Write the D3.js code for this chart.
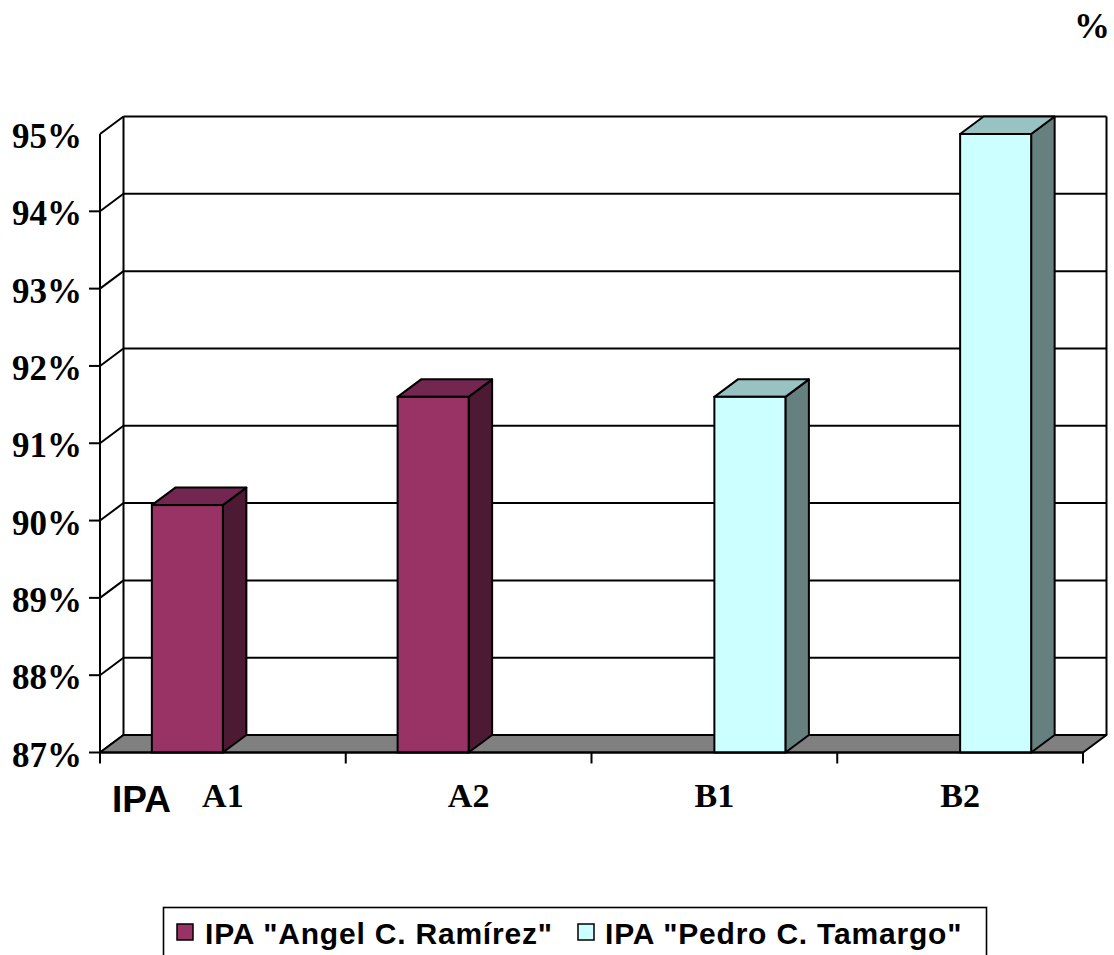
<!DOCTYPE html>
<html>
<head>
<meta charset="utf-8">
<script src="https://cdn.jsdelivr.net/npm/d3@7"></script>
<style>
  html, body { margin: 0; padding: 0; background: #fff; }
  svg { display: block; }
</style>
</head>
<body>
<svg id="chart" width="1114" height="955"></svg>
<script>
const categories = ["A1", "A2", "B1", "B2"];
const seriesNames = ['IPA "Angel C. Ramírez"', 'IPA "Pedro C. Tamargo"'];
const angelValues = [90.2, 91.6, null, null];
const pedroValues = [null, null, 91.6, 95.0];
const yTickValues = [87, 88, 89, 90, 91, 92, 93, 94, 95];
const yTickLabels = ["87%", "88%", "89%", "90%", "91%", "92%", "93%", "94%", "95%"];
const axisTitle = "IPA";
const cornerLabel = "%";

const colors = [
  { front: "#993366", top: "#732650", side: "#4d1a33" },
  { front: "#ccffff", top: "#99c2c2", side: "#668080" }
];

const svg = d3.select("#chart");
const DX = 23.5, DY = -17.5;
const y = d3.scaleLinear().domain([87, 95]).range([752.5, 134]);
const x0 = d3.scaleBand().domain(categories).range([100, 1083]).padding(0);
const bw = x0.bandwidth();
const x1 = d3.scaleBand().domain(seriesNames).range([bw * 0.211, bw * 0.789]).padding(0);
const xL = 100, xR = 1083;
const yBase = y(87), yTop = y(95);
const sw = 2;

// back wall
const back = svg.append("g");
back.append("rect").attr("x", xL + DX).attr("y", yTop + DY)
  .attr("width", xR - xL).attr("height", yBase - yTop).attr("fill", "#fff");
back.selectAll("line.grid").data(yTickValues).join("line")
  .attr("x1", xL + DX).attr("x2", xR + DX)
  .attr("y1", d => y(d) + DY).attr("y2", d => y(d) + DY)
  .attr("stroke", "#000").attr("stroke-width", sw);
back.selectAll("line.diag").data(yTickValues).join("line")
  .attr("x1", xL).attr("x2", xL + DX)
  .attr("y1", d => y(d)).attr("y2", d => y(d) + DY)
  .attr("stroke", "#000").attr("stroke-width", sw);
[[xL + DX, yTop + DY, xL + DX, yBase + DY], [xR + DX, yTop + DY, xR + DX, yBase + DY], [xL, yTop, xL, yBase]]
  .forEach(l => back.append("line").attr("x1", l[0]).attr("y1", l[1]).attr("x2", l[2]).attr("y2", l[3])
    .attr("stroke", "#000").attr("stroke-width", sw));

// floor
svg.append("polygon")
  .attr("points", [[xL, yBase], [xR, yBase], [xR + DX, yBase + DY], [xL + DX, yBase + DY]].map(p => p.join(",")).join(" "))
  .attr("fill", "#808080").attr("stroke", "#000").attr("stroke-width", sw).attr("stroke-linejoin", "round");

// bars
const barData = [];
categories.forEach((c, i) => {
  [angelValues, pedroValues].forEach((vals, s) => {
    if (vals[i] != null) barData.push({ cat: c, s, v: vals[i] });
  });
});
const bars = svg.append("g").selectAll("g").data(barData).join("g");
bars.each(function(d) {
  const g = d3.select(this);
  const xb = x0(d.cat) + x1(seriesNames[d.s]);
  const w = x1.bandwidth();
  const yt = y(d.v);
  const c = colors[d.s];
  g.append("polygon")
    .attr("points", [[xb + w, yt], [xb + w + DX, yt + DY], [xb + w + DX, yBase + DY], [xb + w, yBase]].map(p => p.join(",")).join(" "))
    .attr("fill", c.side).attr("stroke", "#000").attr("stroke-width", sw).attr("stroke-linejoin", "round");
  g.append("polygon")
    .attr("points", [[xb, yt], [xb + w, yt], [xb + w + DX, yt + DY], [xb + DX, yt + DY]].map(p => p.join(",")).join(" "))
    .attr("fill", c.top).attr("stroke", "#000").attr("stroke-width", sw).attr("stroke-linejoin", "round");
  g.append("rect").attr("x", xb).attr("y", yt).attr("width", w).attr("height", yBase - yt)
    .attr("fill", c.front).attr("stroke", "#000").attr("stroke-width", sw);
});

// front axis line and x ticks
svg.append("line").attr("x1", xL).attr("x2", xR).attr("y1", yBase).attr("y2", yBase)
  .attr("stroke", "#000").attr("stroke-width", sw);
const xTickPos = categories.map(c => x0(c)).concat([xR]);
svg.selectAll("line.xt").data(xTickPos).join("line")
  .attr("x1", d => d).attr("x2", d => d).attr("y1", yBase).attr("y2", yBase + 11)
  .attr("stroke", "#000").attr("stroke-width", sw);

// y ticks
svg.selectAll("line.yt").data(yTickValues.slice(0, -1)).join("line")
  .attr("x1", xL - 11).attr("x2", xL).attr("y1", d => y(d)).attr("y2", d => y(d))
  .attr("stroke", "#000").attr("stroke-width", sw);

// y labels
svg.selectAll("text.yl").data(yTickValues).join("text")
  .attr("x", 82).attr("y", d => y(d) + 14)
  .attr("text-anchor", "end")
  .attr("font-family", "'Liberation Serif', 'Times New Roman', serif")
  .attr("font-weight", "bold").attr("font-size", 35)
  .text((d, i) => yTickLabels[i]);

// x labels
svg.selectAll("text.xl").data(categories).join("text")
  .attr("x", d => x0(d) + bw / 2).attr("y", 807)
  .attr("text-anchor", "middle")
  .attr("font-family", "'Liberation Serif', 'Times New Roman', serif")
  .attr("font-weight", "bold").attr("font-size", 34)
  .text(d => d);

// IPA axis title
svg.append("text").attr("x", 112).attr("y", 812)
  .attr("font-family", "'Liberation Sans', Arial, sans-serif")
  .attr("font-weight", "bold").attr("font-size", 37)
  .text(axisTitle);

// corner %
svg.append("text").attr("x", 1110).attr("y", 38)
  .attr("text-anchor", "end")
  .attr("font-family", "'Liberation Serif', 'Times New Roman', serif")
  .attr("font-weight", "bold").attr("font-size", 36)
  .text(cornerLabel);

// legend
const leg = svg.append("g");
leg.append("rect").attr("x", 163.5).attr("y", 907.5).attr("width", 823).attr("height", 60)
  .attr("fill", "#fff").attr("stroke", "#000").attr("stroke-width", 1.6);
const legX = [177, 578];
const legTextX = [205, 605];
seriesNames.forEach((n, i) => {
  leg.append("rect").attr("x", legX[i]).attr("y", 924).attr("width", 16).attr("height", 16)
    .attr("fill", colors[i].front).attr("stroke", "#000").attr("stroke-width", 1.5);
  leg.append("text").attr("x", legTextX[i]).attr("y", 944)
    .attr("font-family", "'Liberation Sans', Arial, sans-serif")
    .attr("font-weight", "bold").attr("font-size", 30).attr("letter-spacing", 0.8)
    .text(n);
});
</script>
</body>
</html>
